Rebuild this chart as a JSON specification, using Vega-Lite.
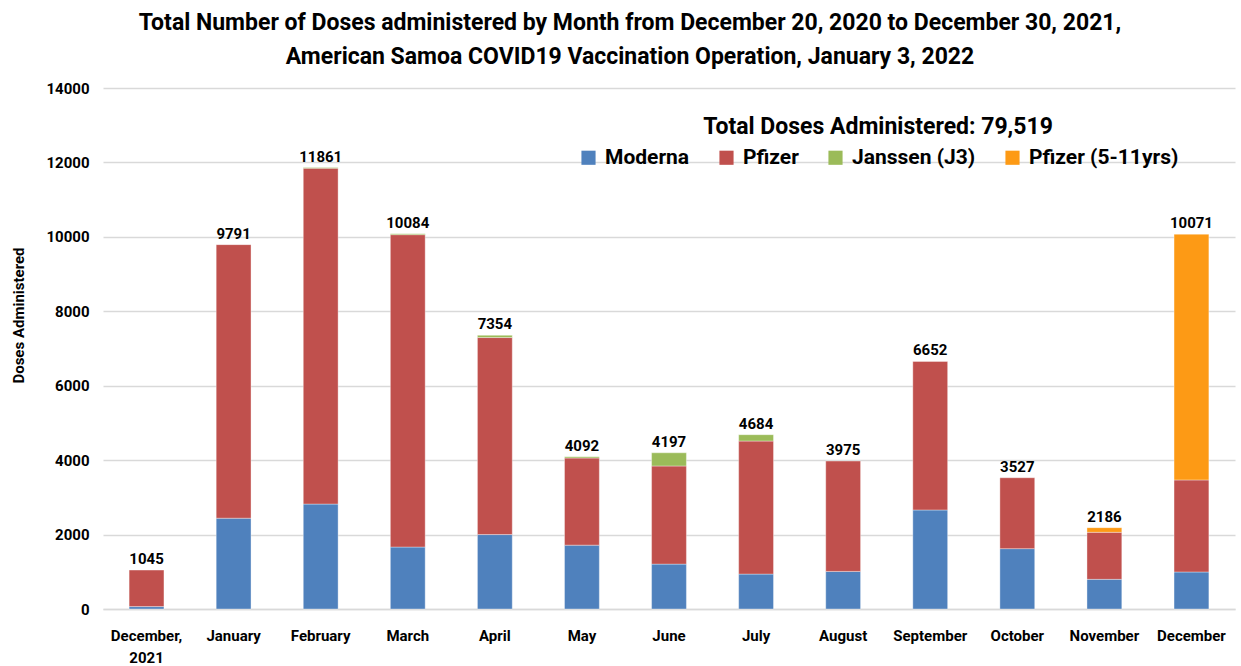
{
  "$schema": "https://vega.github.io/schema/vega-lite/v6.json",
  "autosize": {"type": "none"},
  "width": 1132,
  "height": 521,
  "padding": {"left": 103, "top": 88, "right": 6, "bottom": 57},
  "background": "white",
  "config": {
    "font": "Roboto, sans-serif",
    "view": {"stroke": null}
  },
  "title": {
    "text": ["Total Number of Doses administered by Month from December 20, 2020 to December 30, 2021,", "American Samoa COVID19 Vaccination Operation, January 3, 2022"],
    "font": "Roboto, sans-serif",
    "fontSize": 23,
    "fontWeight": "bold",
    "lineHeight": 34,
    "color": "black",
    "anchor": "middle",
    "dx": -39,
    "offset": 12
  },
  "data": {
    "values": [
      {"month": "December, 2021", "vaccine": "Moderna", "doses": 65},
      {"month": "December, 2021", "vaccine": "Pfizer", "doses": 980},
      {"month": "January", "vaccine": "Moderna", "doses": 2440},
      {"month": "January", "vaccine": "Pfizer", "doses": 7351},
      {"month": "February", "vaccine": "Moderna", "doses": 2820},
      {"month": "February", "vaccine": "Pfizer", "doses": 9026},
      {"month": "February", "vaccine": "Janssen (J3)", "doses": 15},
      {"month": "March", "vaccine": "Moderna", "doses": 1665},
      {"month": "March", "vaccine": "Pfizer", "doses": 8394},
      {"month": "March", "vaccine": "Janssen (J3)", "doses": 25},
      {"month": "April", "vaccine": "Moderna", "doses": 2000},
      {"month": "April", "vaccine": "Pfizer", "doses": 5294},
      {"month": "April", "vaccine": "Janssen (J3)", "doses": 60},
      {"month": "May", "vaccine": "Moderna", "doses": 1716},
      {"month": "May", "vaccine": "Pfizer", "doses": 2341},
      {"month": "May", "vaccine": "Janssen (J3)", "doses": 35},
      {"month": "June", "vaccine": "Moderna", "doses": 1206},
      {"month": "June", "vaccine": "Pfizer", "doses": 2637},
      {"month": "June", "vaccine": "Janssen (J3)", "doses": 354},
      {"month": "July", "vaccine": "Moderna", "doses": 938},
      {"month": "July", "vaccine": "Pfizer", "doses": 3575},
      {"month": "July", "vaccine": "Janssen (J3)", "doses": 171},
      {"month": "August", "vaccine": "Moderna", "doses": 1010},
      {"month": "August", "vaccine": "Pfizer", "doses": 2965},
      {"month": "September", "vaccine": "Moderna", "doses": 2661},
      {"month": "September", "vaccine": "Pfizer", "doses": 3991},
      {"month": "October", "vaccine": "Moderna", "doses": 1622},
      {"month": "October", "vaccine": "Pfizer", "doses": 1905},
      {"month": "November", "vaccine": "Moderna", "doses": 797},
      {"month": "November", "vaccine": "Pfizer", "doses": 1264},
      {"month": "November", "vaccine": "Pfizer (5-11yrs)", "doses": 125},
      {"month": "December", "vaccine": "Moderna", "doses": 995},
      {"month": "December", "vaccine": "Pfizer", "doses": 2473},
      {"month": "December", "vaccine": "Pfizer (5-11yrs)", "doses": 6603}
    ]
  },
  "encoding": {
    "x": {
      "field": "month",
      "type": "nominal",
      "sort": null,
      "scale": {"paddingInner": 0.6, "paddingOuter": 0.3},
      "axis": {
        "title": null,
        "labelAngle": 0,
        "labelFontSize": 15,
        "labelFontWeight": "bold",
        "labelColor": "black",
        "labelPadding": 19,
        "labelLineHeight": 22,
        "labelExpr": "datum.value == 'December, 2021' ? ['December,', '2021'] : datum.value",
        "ticks": false,
        "domainColor": "#D9D9D9",
        "domainWidth": 1.5
      }
    }
  },
  "layer": [
    {
      "mark": {"type": "bar", "stroke": "white", "strokeWidth": 0.6, "strokeOpacity": 0.6},
      "transform": [
        {"calculate": "indexof(['Moderna', 'Pfizer', 'Janssen (J3)', 'Pfizer (5-11yrs)'], datum.vaccine)", "as": "stackOrder"}
      ],
      "encoding": {
        "y": {
          "field": "doses",
          "type": "quantitative",
          "stack": "zero",
          "scale": {"domain": [0, 14000]},
          "axis": {
            "title": "Doses Administered",
            "titleFontSize": 15,
            "titleFontWeight": "bold",
            "titleColor": "black",
            "titleX": -85,
            "titleY": 227,
            "titleAngle": -90,
            "titleAlign": "center",
            "titleBaseline": "middle",
            "values": [0, 2000, 4000, 6000, 8000, 10000, 12000, 14000],
            "format": "d",
            "labelFontSize": 15,
            "labelFontWeight": "bold",
            "labelColor": "black",
            "labelPadding": 14,
            "ticks": false,
            "domain": false,
            "gridColor": "#D9D9D9",
            "gridWidth": 1.5
          }
        },
        "color": {
          "field": "vaccine",
          "type": "nominal",
          "scale": {
            "domain": ["Moderna", "Pfizer", "Janssen (J3)", "Pfizer (5-11yrs)"],
            "range": ["#4F81BD", "#C0504D", "#9BBB59", "#FD9A15"]
          },
          "legend": {
            "title": "Total Doses Administered: 79,519",
            "orient": "none",
            "legendX": 475,
            "legendY": 28,
            "direction": "horizontal",
            "columns": 4,
            "titleAnchor": "middle",
            "titleFontSize": 23,
            "titleFontWeight": "bold",
            "titleColor": "black",
            "titleLimit": 700,
            "titlePadding": 8,
            "labelFontSize": 21,
            "labelFontWeight": "bold",
            "labelColor": "black",
            "labelLimit": 300,
            "symbolType": "square",
            "symbolSize": 200,
            "symbolStrokeWidth": 0,
            "columnPadding": 26,
            "labelOffset": 6
          }
        },
        "order": {"field": "stackOrder", "type": "quantitative"}
      }
    },
    {
      "transform": [
        {"aggregate": [{"op": "sum", "field": "doses", "as": "total"}], "groupby": ["month"]}
      ],
      "mark": {"type": "text", "baseline": "bottom", "dy": -3, "fontSize": 15, "fontWeight": "bold", "color": "black"},
      "encoding": {
        "y": {"field": "total", "type": "quantitative"},
        "text": {"field": "total", "type": "quantitative", "format": "d"}
      }
    }
  ]
}
